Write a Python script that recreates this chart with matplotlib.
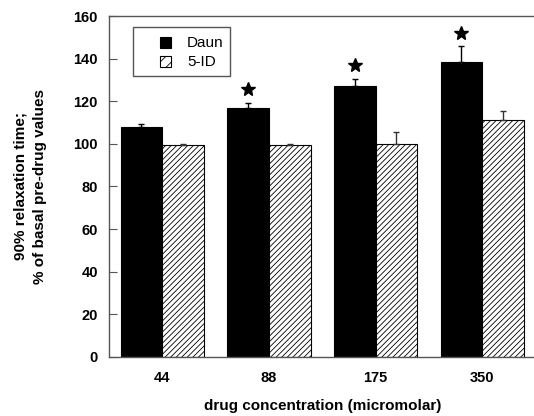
import matplotlib
matplotlib.use('Agg')
import matplotlib.pyplot as plt
from matplotlib.patches import Rectangle
import numpy as np

plt.rcParams['font.family'] = ['Liberation Sans', 'DejaVu Sans']
plt.rcParams['hatch.color'] = '#555555'
plt.rcParams['hatch.linewidth'] = 0.6

concentrations = ['44', '88', '175', '350']
daun = [108, 117, 127, 138.5]
daun_err = [1.2, 2.3, 3.6, 7.2]
five_id = [99.5, 99.5, 99.8, 111.3]
five_id_err = [0.4, 0.4, 5.6, 4.3]
significant = [False, True, True, True]
series_names = ['Daun', '5-ID']

x = np.arange(len(concentrations))
w = 0.39

fig = plt.figure(figsize=(5.34, 4.16), dpi=100)
ax = fig.add_axes([0.204, 0.142, 0.799, 0.8195])

ax.bar(x - w / 2, daun, w, color='black', edgecolor='black', linewidth=0.8)
ax.bar(x + w / 2, five_id, w, color='white', edgecolor='black', linewidth=0.8, hatch='//////')
ax.errorbar(x - w / 2, daun, yerr=[np.zeros(4), daun_err], fmt='none',
            ecolor='black', elinewidth=1, capsize=2.5, capthick=1)
ax.errorbar(x + w / 2, five_id, yerr=[np.zeros(4), five_id_err], fmt='none',
            ecolor='#333333', elinewidth=1, capsize=2.5, capthick=1)

# significance stars above the Daun bars
sx = [x[i] - w / 2 for i in range(len(x)) if significant[i]]
sy = [daun[i] + daun_err[i] + 6.5 for i in range(len(x)) if significant[i]]
ax.plot(sx, sy, linestyle='none', marker='*', markersize=10, color='black')

ax.set_xlim(-0.5, 3.5)
ax.set_ylim(0, 160)
ax.set_yticks(range(0, 161, 20))
ax.set_xticks(x)
ax.set_xticklabels(concentrations)
ax.tick_params(axis='x', length=0, pad=10)
ax.tick_params(axis='y', direction='in', length=6, width=0.8, color='#555555', pad=8)
for lbl in ax.get_xticklabels() + ax.get_yticklabels():
    lbl.set_fontweight('bold')
    lbl.set_fontsize(10.5)

for side in ['left', 'bottom', 'top']:
    ax.spines[side].set_color('#555555')
    ax.spines[side].set_linewidth(1)
ax.spines['right'].set_visible(False)

ax.set_ylabel('90% relaxation time;\n% of basal pre-drug values', fontsize=11,
              fontweight='bold', labelpad=19, linespacing=1.45)
ax.set_xlabel('drug concentration (micromolar)', fontsize=11, fontweight='bold', labelpad=10)

# legend drawn by hand to match the boxed key of the original
W, H = 534, 416
def px(x0, y0, w0, h0):
    return (x0 / W, 1 - (y0 + h0) / H), w0 / W, h0 / H

xy, bw, bh = px(133, 27, 97, 49)
fig.add_artist(Rectangle(xy, bw, bh, transform=fig.transFigure, facecolor='white',
                         edgecolor='#555555', linewidth=1))
xy, bw, bh = px(160, 37, 11, 11)
fig.add_artist(Rectangle(xy, bw, bh, transform=fig.transFigure, facecolor='black',
                         edgecolor='black', linewidth=0.8))
xy, bw, bh = px(160, 56, 11, 11)
fig.add_artist(Rectangle(xy, bw, bh, transform=fig.transFigure, facecolor='white',
                         edgecolor='black', linewidth=0.8, hatch='///'))
fig.text(187 / W, 1 - 43 / H, series_names[0], fontsize=11, va='center', ha='left')
fig.text(187 / W, 1 - 61.5 / H, series_names[1], fontsize=11, va='center', ha='left')

fig.savefig('out.png', dpi=100)
